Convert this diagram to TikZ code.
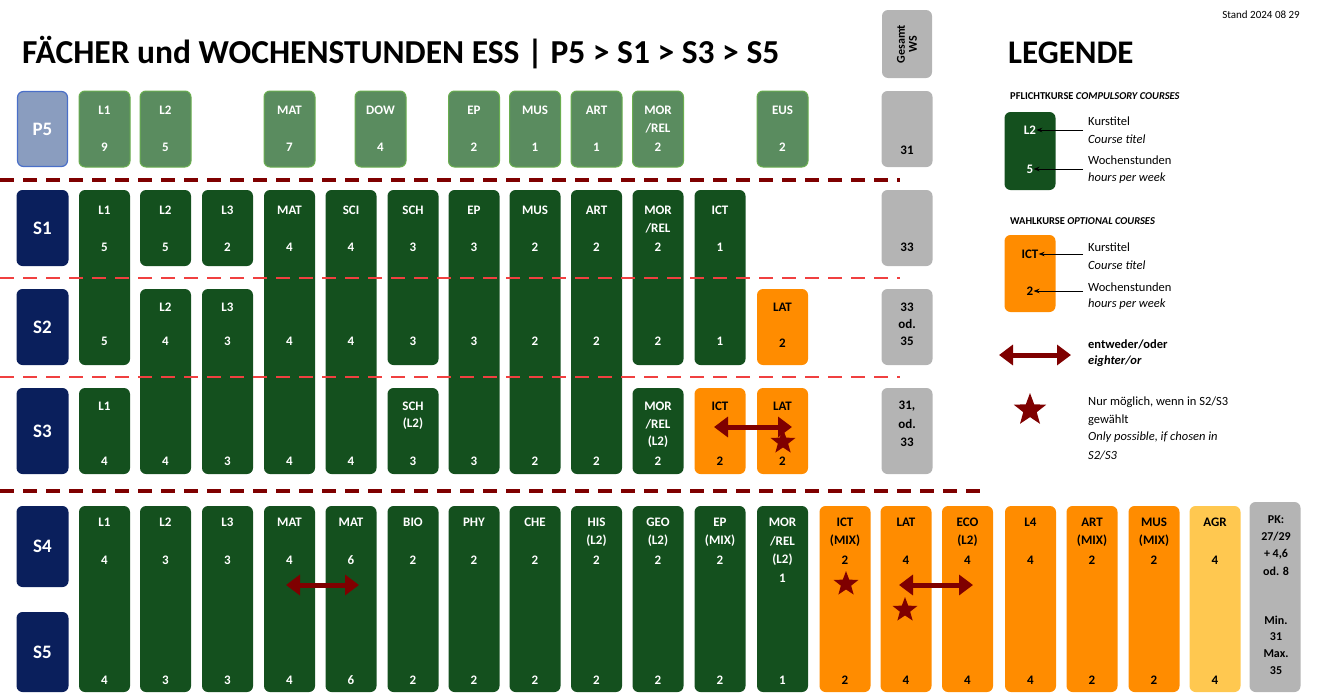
\documentclass[tikz,border=0pt]{standalone}
\usepackage{fontspec}
\setmainfont{Carlito}
\usetikzlibrary{arrows.meta,shapes.geometric}
\definecolor{dg}{HTML}{14501E}
\definecolor{pg}{HTML}{5A8C5F}
\definecolor{pgb}{HTML}{6AAE50}
\definecolor{pl}{HTML}{8A9DBF}
\definecolor{plb}{HTML}{4A6FC8}
\definecolor{nv}{HTML}{0A1F5C}
\definecolor{og}{HTML}{FF8C00}
\definecolor{yl}{HTML}{FFC850}
\definecolor{gr}{HTML}{B4B4B4}
\definecolor{dr}{HTML}{7F0000}
\definecolor{lr}{HTML}{F04040}
\tikzset{
 bxs/.style={rectangle,rounded corners=6pt,minimum width=51pt,inner sep=0},
 green/.style={bxs,fill=dg},
 pgr/.style={bxs,fill=pg,draw=pgb,line width=1pt},
 ora/.style={bxs,fill=og},
 yel/.style={bxs,fill=yl},
 gry/.style={bxs,fill=gr},
 navy/.style={bxs,fill=nv,minimum width=52pt},
 tx/.style={font=\fontsize{13}{15}\selectfont\bfseries,text=white,inner sep=0},
 txb/.style={tx,text=black},
 lbl/.style={font=\fontsize{19}{21}\selectfont\bfseries,text=white},
 dl/.style={dr,line width=3.5pt,dash pattern=on 14pt off 9pt},
 ll/.style={lr,line width=2.5pt,dash pattern=on 14pt off 9pt},
 dbl/.style={dr,line width=5pt,{Triangle[length=14pt,width=20pt]}-{Triangle[length=14pt,width=20pt]}},
 st/.style={star,star points=5,star point ratio=2.4,fill=dr,minimum size=26pt,inner sep=0},
 lgt/.style={font=\fontsize{12.5}{14}\selectfont,anchor=west,inner sep=0},
}
\newcommand\bx[5][]{\node[#1,minimum height={#5-#4}] (#2) at (#3,{(#4+#5)/2}) {};}
\newcommand\tx[3]{\node[tx] at (#1,#2) {#3};}
\newcommand\tb[3]{\node[txb] at (#1,#2) {#3};}
\begin{document}
\begin{tikzpicture}[x=1pt,y=-1pt]
\useasboundingbox (0,0) rectangle (1320,699);
% title
\node[anchor=west,inner sep=0,font=\fontsize{33.5}{36}\selectfont\bfseries] (title) at (22,53) {FÄCHER und WOCHENSTUNDEN ESS | P5 > S1 > S3 > S5};
\node[anchor=east,inner sep=0,font=\fontsize{11}{12}\selectfont] (stand) at (1300,15) {Stand 2024 08 29};
% Gesamt
\bx[gry,minimum width=50pt]{gws}{907}{10}{78}
\node[rotate=90,align=center,font=\fontsize{12}{12}\selectfont\bfseries] (gwst) at (gws) {Gesamt\\WS};
% stage labels
\node[bxs,fill=pl,draw=plb,line width=1.2pt,minimum width=50pt,minimum height=75pt,lbl] (P5) at (42.5,129) {P5};
\bx[navy]{S1}{42.5}{190}{266} \node[lbl] at (S1) {S1};
\bx[navy]{S2}{42.5}{289}{365} \node[lbl] at (S2) {S2};
\bx[navy]{S3}{42.5}{388}{474} \node[lbl] at (S3) {S3};
\bx[navy]{S4}{42.5}{506}{587} \node[lbl] at (S4) {S4};
\bx[navy]{S5}{42.5}{612}{692} \node[lbl] at (S5) {S5};
% P5 row
\foreach \c/\t/\n in {104.5/L1/9,165.5/L2/5,289.5/MAT/7,380.5/DOW/4,474/EP/2,535/MUS/1,596.5/ART/1,782.5/EUS/2}{
 \bx[pgr,minimum height=75pt]{p\t}{\c}{91}{167}
 \tx{\c}{110}{\t} \tx{\c}{147}{\n}}
\bx[pgr,minimum height=75pt]{pMOR}{658}{91}{167}
\tx{658}{110}{MOR} \tx{658}{128}{/REL} \tx{658}{147}{2}
\bx[gry]{g5}{907}{91}{167} \tb{907}{150}{31}
\draw[dl] (0,180) -- (900,180);
% S1 row
\bx[green]{a1}{104.5}{190}{365} \tx{104.5}{210}{L1} \tx{104.5}{247}{5} \tx{104.5}{341}{5}
\bx[green]{a2}{165.5}{190}{266} \tx{165.5}{210}{L2} \tx{165.5}{247}{5}
\bx[green]{a3}{227.5}{190}{266} \tx{227.5}{210}{L3} \tx{227.5}{247}{2}
\foreach \c/\t/\n/\m in {289.5/MAT/4/4,351/SCI/4/4,474/EP/3/3,535/MUS/2/2,596.5/ART/2/2}{
 \bx[green]{a\t}{\c}{190}{474} \tx{\c}{210}{\t} \tx{\c}{247}{\n} \tx{\c}{341}{\m} \tx{\c}{461}{\m}}
\bx[green]{aSCH}{413}{190}{365} \tx{413}{210}{SCH} \tx{413}{247}{3} \tx{413}{341}{3}
\bx[green]{aMOR}{658}{190}{365} \tx{658}{210}{MOR} \tx{658}{228}{/REL} \tx{658}{247}{2} \tx{658}{341}{2}
\bx[green]{aICT}{720}{190}{365} \tx{720}{210}{ICT} \tx{720}{247}{1} \tx{720}{341}{1}
\bx[gry]{g1}{907}{190}{266} \tb{907}{247}{33}
\draw[ll] (0,278) -- (900,278);
% S2 row
\bx[green]{b2}{165.5}{289}{474} \tx{165.5}{307}{L2} \tx{165.5}{341}{4} \tx{165.5}{461}{4}
\bx[green]{b3}{227.5}{289}{474} \tx{227.5}{307}{L3} \tx{227.5}{341}{3} \tx{227.5}{461}{3}
\bx[ora]{bLAT}{782.5}{289}{365} \tb{782.5}{307}{LAT} \tb{782.5}{343}{2}
\bx[gry]{g2}{907}{289}{365} \tb{907}{307}{33} \tb{907}{324}{od.} \tb{907}{341}{35}
\draw[ll] (0,377) -- (900,377);
% S3 row
\bx[green]{c1}{104.5}{388}{474} \tx{104.5}{406}{L1} \tx{104.5}{461}{4}
\bx[green]{cSCH}{413}{388}{474} \tx{413}{406}{SCH} \tx{413}{424}{(L2)} \tx{413}{461}{3}
\bx[green]{cMOR}{658}{388}{474} \tx{658}{406}{MOR} \tx{658}{424}{/REL} \tx{658}{442}{(L2)} \tx{658}{461}{2}
\bx[ora]{cICT}{720}{388}{474} \tb{720}{406}{ICT} \tb{720}{461}{2}
\bx[ora]{cLAT}{782.5}{388}{474} \tb{782.5}{406}{LAT} \tb{782.5}{461}{2}
\bx[gry]{g3}{907}{388}{474} \tb{907}{406}{31,} \tb{907}{424}{od.} \tb{907}{442}{33}
\coordinate (s3a) at (714,427); \coordinate (s3b) at (792,427);
\draw[dbl] (s3a) -- (s3b);
\node[st] (st1) at (783,442) {};
\draw[dl] (0,491) -- (980,491);
% S4/S5 row
\foreach \c/\t/\n/\m in {104.5/L1/4/4,165.5/L2/3/3,227.5/L3/3/3,289.5/MAT/4/4,351/MAT/6/6,413/BIO/2/2,474/PHY/2/2,535/CHE/2/2}{
 \bx[green]{d\c}{\c}{506}{692} \tx{\c}{522}{\t} \tx{\c}{560}{\n} \tx{\c}{680}{\m}}
\foreach \c/\t/\u/\n in {596.5/HIS/(L2)/2,658/GEO/(L2)/2,720/EP/(MIX)/2}{
 \bx[green]{d\c}{\c}{506}{692} \tx{\c}{522}{\t} \tx{\c}{541}{\u} \tx{\c}{560}{\n} \tx{\c}{680}{\n}}
\bx[green]{dMOR}{782.5}{506}{692} \tx{782.5}{522}{MOR} \tx{782.5}{541}{/REL} \tx{782.5}{560}{(L2)} \tx{782.5}{578}{1} \tx{782.5}{680}{1}
\foreach \c/\t/\u/\n in {845/ICT/(MIX)/2,967.5/ECO/(L2)/4,1092/ART/(MIX)/2,1154/MUS/(MIX)/2}{
 \bx[ora]{e\c}{\c}{506}{692} \tb{\c}{522}{\t} \tb{\c}{541}{\u} \tb{\c}{560}{\n} \tb{\c}{680}{\n}}
\foreach \c/\t/\n in {906/LAT/4,1030.5/L4/4}{
 \bx[ora]{e\c}{\c}{506}{692} \tb{\c}{522}{\t} \tb{\c}{560}{\n} \tb{\c}{680}{\n}}
\bx[yel]{eAGR}{1215}{506}{692} \tb{1215}{522}{AGR} \tb{1215}{560}{4} \tb{1215}{680}{4}
\bx[gry]{g4}{1275}{502}{692}
\foreach \y/\t in {520/{PK:},537/{27/29},554/{+ 4,6},571/{od. 8},620/{Min.},637/{31},654/{Max.},671/{35}}{\node[txb,font=\fontsize{12}{14}\selectfont\bfseries] at (1276,\y) {\t};}
\coordinate (m1) at (286,585); \coordinate (m2) at (359,585);
\draw[dbl] (m1) -- (m2);
\coordinate (l1) at (899,585); \coordinate (l2) at (973,585);
\draw[dbl] (l1) -- (l2);
\node[st] (st2) at (846,584) {};
\node[st] (st3) at (905,610) {};
% legend
\node[anchor=west,inner sep=0,font=\fontsize{33}{36}\selectfont\bfseries] (leg) at (1008,53) {LEGENDE};
\node[anchor=west,inner sep=0,font=\fontsize{10.5}{12}\selectfont\bfseries] (lp) at (1010,96) {PFLICHTKURSE \textit{COMPULSORY COURSES}};
\bx[green]{lg}{1030}{112}{190} \node[tx] (lgt) at (1030,130) {L2}; \node[tx] (lgn) at (1030,169) {5};
\coordinate (la1) at (1083,130); \coordinate (la2) at (1083,169);
\draw[-{Stealth[length=6pt]},line width=1pt] (la1) -- (lgt.east);
\draw[-{Stealth[length=6pt]},line width=1pt] (la2) -- (lgn.east);
\node[lgt] at (1088,121) {Kurstitel}; \node[lgt] at (1088,139) {\itshape Course titel};
\node[lgt] at (1088,160) {Wochenstunden}; \node[lgt] at (1088,178) {\itshape hours per week};
\node[anchor=west,inner sep=0,font=\fontsize{10.5}{12}\selectfont\bfseries] (lw) at (1010,221) {WAHLKURSE \textit{OPTIONAL COURSES}};
\bx[ora]{lo}{1030}{235}{312} \node[txb] (lot) at (1030,254) {ICT}; \node[txb] (lon) at (1030,291) {2};
\coordinate (lb1) at (1083,254); \coordinate (lb2) at (1083,291);
\draw[-{Stealth[length=6pt]},line width=1pt] (lb1) -- (lot.east);
\draw[-{Stealth[length=6pt]},line width=1pt] (lb2) -- (lon.east);
\node[lgt] at (1088,247) {Kurstitel}; \node[lgt] at (1088,265) {\itshape Course titel};
\node[lgt] at (1088,287) {Wochenstunden}; \node[lgt] at (1088,304) {\itshape hours per week};
\coordinate (ld1) at (999,355); \coordinate (ld2) at (1071,355);
\draw[dbl] (ld1) -- (ld2);
\node[lgt,font=\fontsize{12.5}{14}\selectfont\bfseries] at (1088,344) {entweder/oder};
\node[lgt,font=\fontsize{12.5}{14}\selectfont\bfseries\itshape] at (1088,361) {eighter/or};
\node[st,minimum size=34pt] (lst) at (1030,410) {};
\node[lgt] at (1088,402) {Nur möglich, wenn in S2/S3};
\node[lgt] at (1088,420) {gewählt};
\node[lgt] at (1088,437) {\itshape Only possible, if chosen in};
\node[lgt] at (1088,455) {\itshape S2/S3};
\end{tikzpicture}
\end{document}
